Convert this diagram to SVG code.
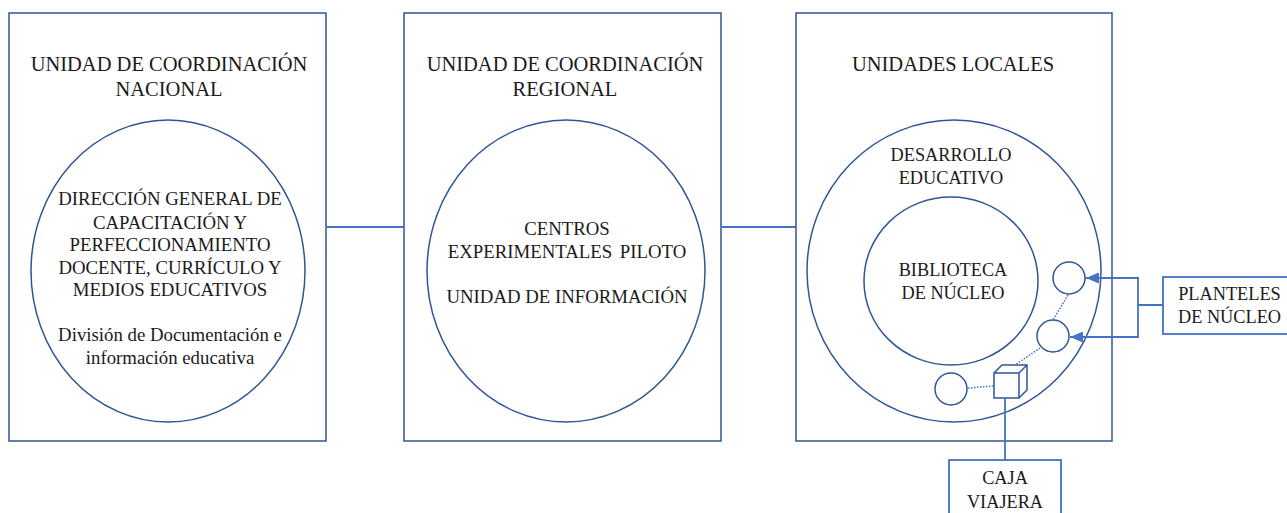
<svg xmlns="http://www.w3.org/2000/svg" width="1287" height="513" viewBox="0 0 1287 513">
<style>
.b{fill:#fff;stroke:#2f5597;stroke-width:1.5}
.s{fill:#fff;stroke:#4472c4;stroke-width:1.8}
.c{fill:none;stroke:#4472c4;stroke-width:1.8}
.d{fill:none;stroke:#4472c4;stroke-width:1.5;stroke-dasharray:1.5 1.5}
text{font-family:"Liberation Serif",serif;font-size:18.8px;fill:#1a1a1a;text-anchor:middle}
.t{font-size:20.5px}
.m{font-size:18.3px}
</style>
<defs><marker id="a" markerWidth="13" markerHeight="11" refX="13" refY="5.5" orient="auto" markerUnits="userSpaceOnUse"><path d="M0 0L13 5.5L0 11z" fill="#4472c4"/></marker></defs>
<rect width="1287" height="513" fill="#fff"/>
<g id="n1"><rect class="b" x="9" y="13" width="317" height="428"/><text class="t" x="169" y="71">UNIDAD DE COORDINACIÓN</text><text class="t" x="169" y="96">NACIONAL</text>
<ellipse class="b" cx="168" cy="271" rx="137" ry="151"/>
<text x="170" y="205">DIRECCIÓN GENERAL DE</text><text x="170" y="229">CAPACITACIÓN Y</text><text x="170" y="251">PERFECCIONAMIENTO</text><text x="170" y="274">DOCENTE, CURRÍCULO Y</text><text x="170" y="296">MEDIOS EDUCATIVOS</text><text x="170" y="341">División de Documentación e</text><text x="170" y="364">información educativa</text></g>
<g id="n2"><rect class="b" x="404" y="13" width="317" height="428"/><text class="t" x="565" y="71">UNIDAD DE COORDINACIÓN</text><text class="t" x="565" y="96">REGIONAL</text>
<ellipse class="b" cx="566" cy="271" rx="139" ry="151"/>
<text x="567" y="235">CENTROS</text><text x="567" y="258" style="word-spacing:3px">EXPERIMENTALES PILOTO</text><text x="567" y="303">UNIDAD DE INFORMACIÓN</text></g>
<g id="n3"><rect class="b" x="796" y="13" width="316" height="428"/><text class="t" x="953" y="71">UNIDADES LOCALES</text></g>
<g id="n4"><ellipse class="b" cx="954" cy="271" rx="147" ry="151"/><text class="m" x="951" y="161">DESARROLLO</text><text class="m" x="951" y="184">EDUCATIVO</text></g>
<g id="n5"><ellipse class="b" cx="951" cy="281" rx="87" ry="84"/><text class="m" x="953" y="276">BIBLIOTECA</text><text class="m" x="953" y="299">DE NÚCLEO</text></g>
<g id="n6"><circle class="b" cx="1069" cy="278" r="16"/></g>
<g id="n7"><circle class="b" cx="1053" cy="336" r="16"/></g>
<g id="n8"><circle class="b" cx="951" cy="389" r="16"/></g>
<g id="n9"><path class="b" d="M994 373V398H1019V373zM994 373L1002 365H1027V390L1019 398M1019 373L1027 365"/></g>
<g id="n10"><rect class="s" x="1163" y="277" width="130" height="57"/><text class="m" x="1229.500" y="300">PLANTELES</text><text class="m" x="1229.500" y="323">DE NÚCLEO</text></g>
<g id="n11"><rect class="s" x="949" y="460" width="112" height="60"/><text class="m" x="1005" y="484">CAJA</text><text class="m" x="1005" y="508">VIAJERA</text></g>
<g id="connectors">
<path class="c" d="M326 227H404M721 227H796"/>
<path class="d" d="M1068 295L1053 320M1040 348L1015 365M968 388L993 386"/>
<path class="c" d="M1163 305H1138V278H1086" marker-end="url(#a)"/>
<path class="c" d="M1138 305V337H1070" marker-end="url(#a)"/>
<path class="c" d="M1005 398V460"/>
</g>
</svg>
